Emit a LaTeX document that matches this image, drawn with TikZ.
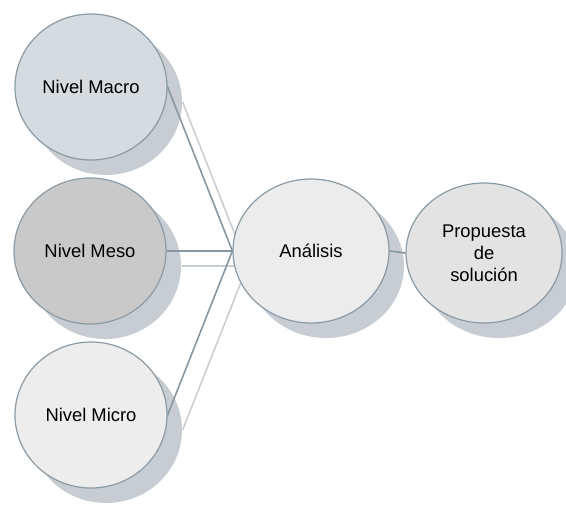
\documentclass[tikz,border=0pt]{standalone}
\usepackage{fontspec}
\setmainfont{Liberation Sans}
\usetikzlibrary{shapes,shadows,positioning}
\definecolor{borde}{HTML}{8C9AA4}
\definecolor{sombra}{HTML}{C7CDD2}
\definecolor{linea}{HTML}{8896A2}
\definecolor{lineasombra}{HTML}{C8CFD4}
\definecolor{macro}{HTML}{D6DBDF}
\definecolor{meso}{HTML}{C9C9C9}
\definecolor{micro}{HTML}{EDEDED}
\definecolor{analisis}{HTML}{ECECEC}
\definecolor{propuesta}{HTML}{E3E3E3}
\pgfdeclarelayer{fondo}
\pgfsetlayers{fondo,main}

\begin{document}
\begin{tikzpicture}[x=0.5pt,y=-0.5pt,every node/.append style={font=\fontsize{9.2}{11}\selectfont,
                    align=center},
    nivel/.style={ellipse, draw=borde, line width=0.6pt, inner sep=0pt,
                  minimum width=76pt, minimum height=73pt,
                  drop shadow={shadow xshift=7.5pt, shadow yshift=-7.5pt,
                               fill=sombra, opacity=1}},
    conector/.style={draw=linea, line width=0.8pt},
    conectorsombra/.style={draw=lineasombra, line width=0.8pt}]
    \useasboundingbox (0,0) rectangle (566,504);
    \node[nivel, fill=macro] (macro) at (91, 87) {Nivel Macro};
    \node[nivel, fill=meso] (meso) at (90, 251) {Nivel Meso};
    \node[nivel, fill=micro] (micro) at (91, 415) {Nivel Micro};
    \node[nivel, fill=analisis, minimum width=78pt, minimum height=72pt] (analisis) at (311, 251) {Análisis};
    \node[nivel, fill=propuesta, minimum width=78pt, minimum height=70pt] (propuesta) at (484, 253) {Propuesta\\de\\solución};
    % sombras de los conectores
    \begin{pgfonlayer}{fondo}
      \foreach \n in {macro,meso,micro}
        \draw[conectorsombra] ([shift={(15,15)}]\n.east) -- ([shift={(15,15)}]analisis.west);
    \end{pgfonlayer}
    \foreach \n in {macro,meso,micro}
      \draw[conector] (\n.east) -- (analisis.west);
    \draw[conector] (analisis.east) -- (propuesta.west);
\end{tikzpicture}
\end{document}
